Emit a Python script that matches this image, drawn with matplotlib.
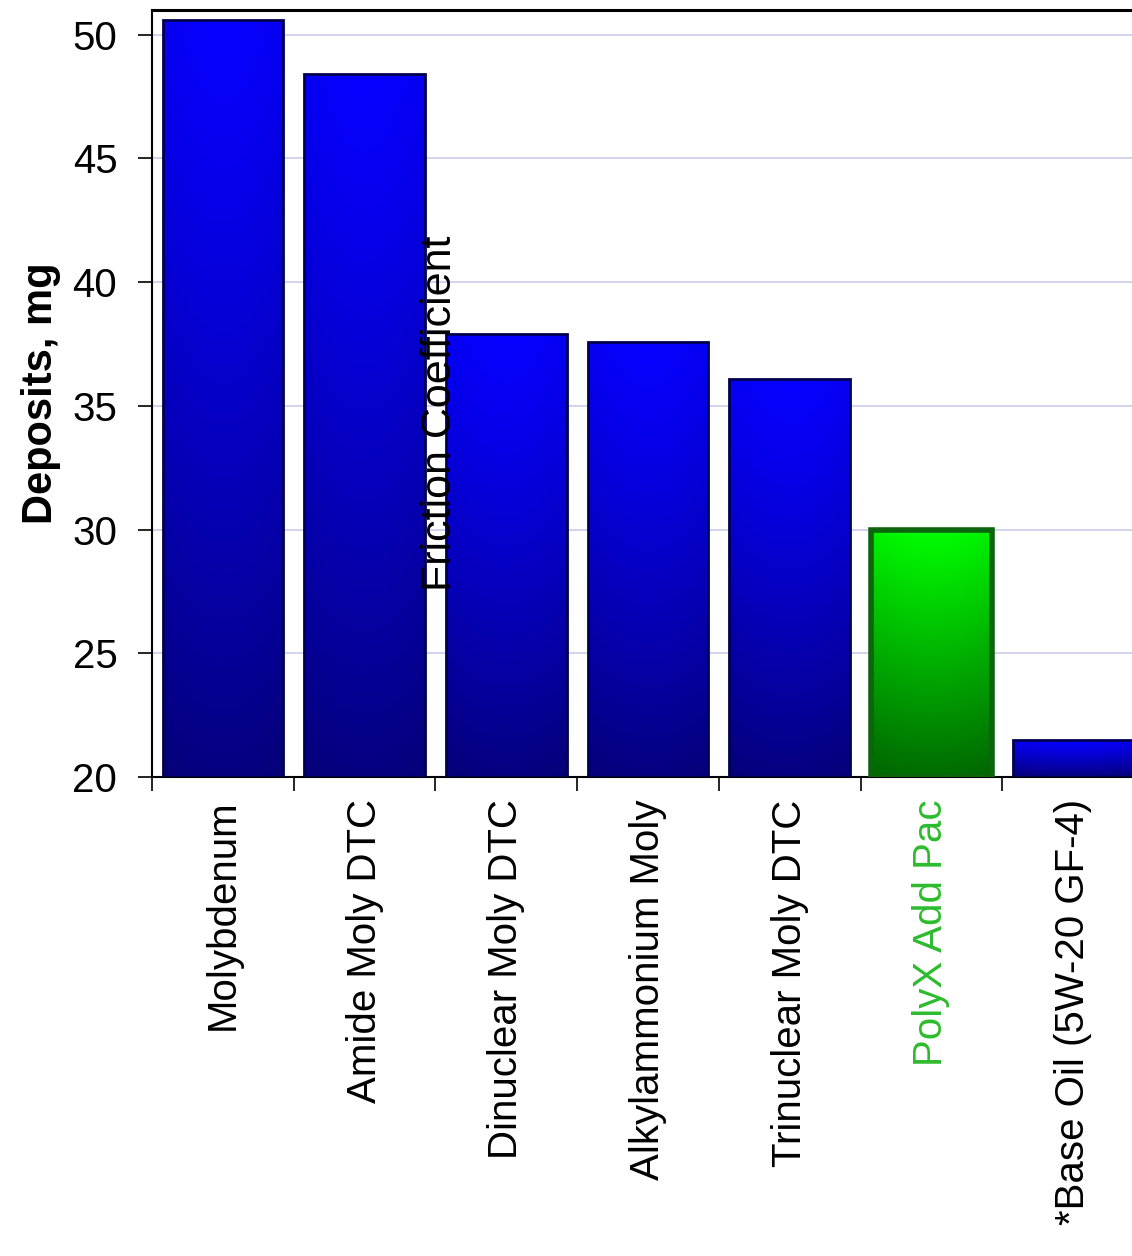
import numpy as np
import matplotlib
matplotlib.use('Agg')
import matplotlib.pyplot as plt

plt.rcParams['font.family'] = ['Liberation Sans', 'DejaVu Sans']

categories = ['Molybdenum', 'Amide Moly DTC', 'Dinuclear Moly DTC', 'Alkylammonium Moly',
              'Trinuclear Moly DTC', 'PolyX Add Pac', '*Base Oil (5W-20 GF-4)']
deposits = [50.6, 48.4, 37.9, 37.6, 36.1, 30.0, 21.5]
highlight = [False, False, False, False, False, True, False]
yticks = [20, 25, 30, 35, 40, 45, 50]

fig = plt.figure(figsize=(11.32, 12.56), dpi=100)
ax = fig.add_axes([152/1132, 479/1256, 992/1132, 767/1256])

x = np.arange(len(categories))
base = 20
bars = ax.bar(x, np.array(deposits) - base, bottom=base, width=0.85, zorder=2)

# gradient fills, clipped to each bar
for bar, hl in zip(bars, highlight):
    x0, y0 = bar.get_x(), bar.get_y()
    w, h = bar.get_width(), bar.get_height()
    t = np.linspace(0, 1, 256)[:, None]  # 0 at top, 1 at bottom
    s = np.linspace(-1, 1, 64)[None, :]
    shade = 1 - 0.06 * s**2
    img = np.zeros((256, 64, 3))
    if hl:
        img[..., 1] = (1.0 - 0.58 * t) * shade
        edge = '#0c640c'
        lw = 4
    else:
        img[..., 2] = (1.0 - 0.5 * t**1.2) * shade
        img[..., 0] = 0.02
        edge = '#000050'
        lw = 2
    bar.set_facecolor('none')
    bar.set_edgecolor(edge)
    bar.set_linewidth(lw)
    bar.set_zorder(3)
    im = ax.imshow(img, extent=(x0, x0 + w, y0, y0 + h), aspect='auto',
                   origin='upper', zorder=2, interpolation='bilinear')
    im.set_clip_path(bar)

ax.set_xlim(-0.5, len(categories) - 0.5)
ax.set_ylim(20, 51)
ax.set_yticks(yticks)
ax.set_yticklabels([str(v) for v in yticks], fontsize=29)
ax.tick_params(axis='y', length=10, width=1.2, pad=15, direction='out')

# category boundary ticks, labels at centers
ax.set_xticks(np.arange(len(categories) + 1) - 0.5)
ax.set_xticklabels([])
ax.tick_params(axis='x', which='major', length=10, width=1.2, direction='out')
ax.set_xticks(x, minor=True)
ax.set_xticklabels(categories, minor=True, rotation=90, fontsize=29, va='top', ha='center')
ax.tick_params(axis='x', which='minor', length=0, pad=16)
for lbl, hl in zip(ax.get_xticklabels(minor=True), highlight):
    if hl:
        lbl.set_color('#2dbb2d')

ax.grid(axis='y', color='#d4d4ec', linewidth=1.5, zorder=0)
ax.set_axisbelow(True)
for sp in ax.spines.values():
    sp.set_linewidth(1.5)
ax.spines['top'].set_linewidth(2.2)

ax.set_ylabel('Deposits, mg', fontsize=30, fontweight='bold', labelpad=8)

ax.text(1.53, 34.7, 'Friction Coefficient', rotation=90, ha='center', va='center',
        fontsize=31, zorder=5)

fig.savefig('out.png', dpi=100)
